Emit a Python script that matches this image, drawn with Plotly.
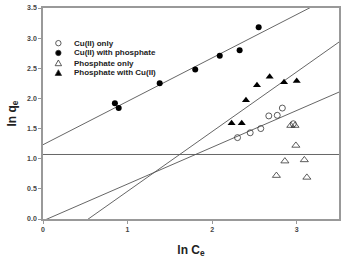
import plotly.graph_objects as go
import numpy as np

# Data (ln Ce, ln qe)
cu_only_x = [2.30, 2.45, 2.575, 2.67, 2.77, 2.83, 2.96]
cu_only_y = [1.35, 1.43, 1.50, 1.71, 1.72, 1.84, 1.58]

cu_phos_x = [0.85, 0.895, 1.38, 1.80, 2.09, 2.325, 2.55]
cu_phos_y = [1.92, 1.84, 2.25, 2.48, 2.71, 2.80, 3.18]

phos_only_x = [2.93, 2.98, 2.99, 2.86, 3.09, 2.76, 3.12]
phos_only_y = [1.55, 1.55, 1.22, 0.96, 0.98, 0.72, 0.69]

phos_cu_x = [2.23, 2.35, 2.40, 2.53, 2.68, 2.85, 3.00]
phos_cu_y = [1.59, 1.59, 1.97, 2.22, 2.36, 2.27, 2.29]

# Fitted lines: (slope, intercept)
fit_cu_phos = (0.72, 1.232)
fit_phos_cu = (0.99, -0.53)
fit_cu_only = (0.61, -0.03)
fit_phos_only = (0.0, 1.07)

legend_labels = ["Cu(II) only", "Cu(II) with phosphate", "Phosphate only", "Phosphate with Cu(II)"]

FONT = "Liberation Sans"
fig = go.Figure()

xl = np.array([0.0, 3.5])
for s, b in [fit_cu_phos, fit_phos_cu, fit_cu_only, fit_phos_only]:
    fig.add_trace(go.Scatter(x=xl, y=s * xl + b, mode="lines",
                             line=dict(color="#555555", width=0.9),
                             showlegend=False, hoverinfo="skip"))

fig.add_trace(go.Scatter(x=cu_only_x, y=cu_only_y, mode="markers",
                         marker=dict(symbol="circle-open", size=6, color="#333333", line=dict(width=0.8)),
                         showlegend=False))
fig.add_trace(go.Scatter(x=cu_phos_x, y=cu_phos_y, mode="markers",
                         marker=dict(symbol="circle", size=6, color="black"),
                         showlegend=False))
fig.add_trace(go.Scatter(x=phos_only_x, y=phos_only_y, mode="markers",
                         marker=dict(symbol="triangle-up-open", size=7, color="#333333", line=dict(width=0.8)),
                         showlegend=False))
fig.add_trace(go.Scatter(x=phos_cu_x, y=phos_cu_y, mode="markers",
                         marker=dict(symbol="triangle-up", size=7, color="black"),
                         showlegend=False))

# Custom compact legend
L, R, T, B = 42.5, 341.0, 5.0, 221.0
def px2paper(px, py):
    return (px - L) / (R - L), (B - py) / (B - T)

rows_y = [41, 51, 61.5, 71.5]
mx, tx = 58, 72
shapes = []
annotations = []
for i, (lab, ry) in enumerate(zip(legend_labels, rows_y)):
    ax, ay = px2paper(mx, ry)
    if i < 2:
        shapes.append(dict(type="circle", xref="paper", yref="paper",
                           xsizemode="pixel", ysizemode="pixel",
                           xanchor=ax, yanchor=ay, x0=-2.7, x1=2.7, y0=-2.7, y1=2.7,
                           line=dict(color="#333333", width=0.8),
                           fillcolor="black" if i == 1 else "rgba(0,0,0,0)"))
    else:
        shapes.append(dict(type="path", xref="paper", yref="paper",
                           xsizemode="pixel", ysizemode="pixel",
                           xanchor=ax, yanchor=ay,
                           path="M -3.2,-2.5 L 3.2,-2.5 L 0,3.2 Z",
                           line=dict(color="#333333", width=0.8),
                           fillcolor="black" if i == 3 else "rgba(0,0,0,0)"))
    txp, typ = px2paper(tx, ry)
    annotations.append(dict(x=txp, y=typ, xref="paper", yref="paper", text=lab,
                            showarrow=False, xanchor="left", yanchor="middle",
                            font=dict(family=FONT, size=8, color="#222222", weight="bold")))

fig.update_layout(
    width=345, height=259,
    margin=dict(l=42.5, r=4, t=5, b=38),
    paper_bgcolor="white", plot_bgcolor="white",
    shapes=shapes, annotations=annotations,
    showlegend=False,
    xaxis=dict(range=[0, 3.5], tickvals=[0, 1, 2, 3], showgrid=False, zeroline=False,
               showline=True, linecolor="#999999", linewidth=1.5, mirror=True,
               ticks="outside", ticklen=3, tickcolor="#999999", tickwidth=1,
               tickfont=dict(family=FONT, size=7, color="#444444", weight="bold"),
               title=dict(text="ln C<sub>e</sub>", standoff=13,
                          font=dict(family=FONT, size=12, color="#222222", weight="bold"))),
    yaxis=dict(range=[0, 3.5], tickvals=[0, 0.5, 1, 1.5, 2, 2.5, 3, 3.5], tickformat=".1f",
               showgrid=False, zeroline=False,
               showline=True, linecolor="#999999", linewidth=1.5, mirror=True,
               ticks="outside", ticklen=3, tickcolor="#999999", tickwidth=1,
               tickfont=dict(family=FONT, size=7, color="#444444", weight="bold"),
               title=dict(text="ln q<sub>e</sub>", standoff=8,
                          font=dict(family=FONT, size=12, color="#222222", weight="bold"))),
)

fig.write_html("out.html")
